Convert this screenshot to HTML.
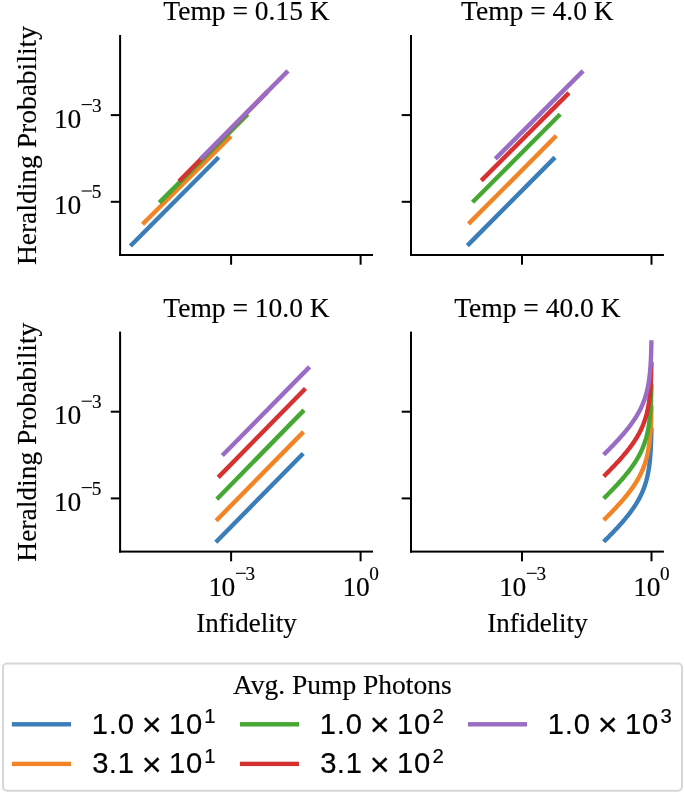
<!DOCTYPE html>
<html><head><meta charset="utf-8"><style>
html,body{margin:0;padding:0;background:#fff;}
text{stroke:#000;stroke-width:0.15px;}
text.s{stroke-width:0.2px;}
svg{display:block;will-change:transform;}
</style></head><body>
<svg width="685" height="794" viewBox="0 0 685 794">
<rect width="685" height="794" fill="#fff"/>
<rect x="119.10" y="35.00" width="2.00" height="221.00" fill="#000"/>
<rect x="119.10" y="254.00" width="253.90" height="2.00" fill="#000"/>
<rect x="230.10" y="255.00" width="2.00" height="9.70" fill="#000"/>
<rect x="359.60" y="255.00" width="2.00" height="9.70" fill="#000"/>
<rect x="110.80" y="114.10" width="9.30" height="2.00" fill="#000"/>
<rect x="110.80" y="200.80" width="9.30" height="2.00" fill="#000"/>
<rect x="410.00" y="35.00" width="2.00" height="221.00" fill="#000"/>
<rect x="410.00" y="254.00" width="253.90" height="2.00" fill="#000"/>
<rect x="521.00" y="255.00" width="2.00" height="9.70" fill="#000"/>
<rect x="650.50" y="255.00" width="2.00" height="9.70" fill="#000"/>
<rect x="401.70" y="114.10" width="9.30" height="2.00" fill="#000"/>
<rect x="401.70" y="200.80" width="9.30" height="2.00" fill="#000"/>
<rect x="119.10" y="331.60" width="2.00" height="221.00" fill="#000"/>
<rect x="119.10" y="550.60" width="253.90" height="2.00" fill="#000"/>
<rect x="230.10" y="551.60" width="2.00" height="9.70" fill="#000"/>
<rect x="359.60" y="551.60" width="2.00" height="9.70" fill="#000"/>
<rect x="110.80" y="410.70" width="9.30" height="2.00" fill="#000"/>
<rect x="110.80" y="497.40" width="9.30" height="2.00" fill="#000"/>
<rect x="410.00" y="331.60" width="2.00" height="221.00" fill="#000"/>
<rect x="410.00" y="550.60" width="253.90" height="2.00" fill="#000"/>
<rect x="521.00" y="551.60" width="2.00" height="9.70" fill="#000"/>
<rect x="650.50" y="551.60" width="2.00" height="9.70" fill="#000"/>
<rect x="401.70" y="410.70" width="9.30" height="2.00" fill="#000"/>
<rect x="401.70" y="497.40" width="9.30" height="2.00" fill="#000"/>
<line x1="130.40" y1="246.00" x2="218.70" y2="157.20" stroke="#3a7db8" stroke-width="4.4" stroke-linecap="butt"/>
<line x1="142.50" y1="224.30" x2="231.00" y2="136.30" stroke="#f28425" stroke-width="4.4" stroke-linecap="butt"/>
<line x1="159.30" y1="202.60" x2="247.80" y2="114.20" stroke="#44a832" stroke-width="4.4" stroke-linecap="butt"/>
<line x1="179.00" y1="181.20" x2="267.30" y2="91.90" stroke="#d63030" stroke-width="4.4" stroke-linecap="butt"/>
<line x1="200.30" y1="159.30" x2="288.00" y2="70.90" stroke="#9a6cc4" stroke-width="4.4" stroke-linecap="butt"/>
<line x1="467.30" y1="245.60" x2="555.00" y2="157.40" stroke="#3a7db8" stroke-width="4.4" stroke-linecap="butt"/>
<line x1="468.50" y1="223.90" x2="556.30" y2="135.80" stroke="#f28425" stroke-width="4.4" stroke-linecap="butt"/>
<line x1="472.50" y1="202.30" x2="560.20" y2="114.30" stroke="#44a832" stroke-width="4.4" stroke-linecap="butt"/>
<line x1="481.30" y1="180.60" x2="569.00" y2="92.90" stroke="#d63030" stroke-width="4.4" stroke-linecap="butt"/>
<line x1="495.30" y1="158.90" x2="583.10" y2="70.90" stroke="#9a6cc4" stroke-width="4.4" stroke-linecap="butt"/>
<line x1="215.80" y1="542.30" x2="303.20" y2="453.50" stroke="#3a7db8" stroke-width="4.4" stroke-linecap="butt"/>
<line x1="216.10" y1="520.70" x2="303.50" y2="431.90" stroke="#f28425" stroke-width="4.4" stroke-linecap="butt"/>
<line x1="216.80" y1="499.30" x2="304.00" y2="410.10" stroke="#44a832" stroke-width="4.4" stroke-linecap="butt"/>
<line x1="218.20" y1="477.40" x2="305.50" y2="388.50" stroke="#d63030" stroke-width="4.4" stroke-linecap="butt"/>
<line x1="222.30" y1="455.50" x2="309.60" y2="366.90" stroke="#9a6cc4" stroke-width="4.4" stroke-linecap="butt"/>
<polyline points="603.70,541.75 604.66,540.80 605.63,539.84 606.58,538.89 607.53,537.94 608.48,536.98 609.42,536.03 610.35,535.08 611.28,534.12 612.21,533.17 613.12,532.22 614.03,531.26 614.94,530.31 615.83,529.36 616.72,528.40 617.61,527.45 618.48,526.50 619.34,525.54 620.20,524.59 621.05,523.64 621.89,522.68 622.72,521.73 623.54,520.78 624.34,519.82 625.14,518.87 625.93,517.92 626.71,516.96 627.47,516.01 628.23,515.06 628.97,514.10 629.70,513.15 630.41,512.20 631.12,511.24 631.81,510.29 632.49,509.34 633.15,508.38 633.80,507.43 634.44,506.48 635.06,505.52 635.67,504.57 636.27,503.62 636.85,502.66 637.41,501.71 637.96,500.76 638.50,499.80 639.02,498.85 639.53,497.90 640.02,496.94 640.50,495.99 640.96,495.04 641.41,494.08 641.84,493.13 642.27,492.18 642.67,491.22 643.06,490.27 643.44,489.32 643.81,488.36 644.16,487.41 644.50,486.46 644.83,485.50 645.14,484.55 645.45,483.60 645.74,482.64 646.02,481.69 646.29,480.74 646.54,479.78 646.79,478.83 647.02,477.88 647.25,476.92 647.47,475.97 647.67,475.02 647.87,474.06 648.06,473.11 648.24,472.16 648.41,471.20 648.58,470.25 648.73,469.30 648.88,468.34 649.03,467.39 649.16,466.44 649.29,465.48 649.41,464.53 649.53,463.58 649.64,462.62 649.75,461.67 649.85,460.72 649.94,459.76 650.04,458.81 650.12,457.86 650.20,456.90 650.28,455.95 650.36,455.00 650.43,454.04 650.49,453.09 650.56,452.14 650.62,451.18 650.67,450.23 650.73,449.28 650.78,448.32 650.83,447.37 650.88,446.42 650.92,445.46 650.96,444.51 651.00,443.56 651.04,442.60 651.07,441.65 651.11,440.70 651.14,439.74 651.17,438.79 651.20,437.84 651.22,436.88 651.25,435.93 651.27,434.98 651.30,434.02 651.32,433.07 651.34,432.12 651.36,431.16 651.38,430.21 651.39,429.26 651.41,428.30 651.43,427.35" fill="none" stroke="#3a7db8" stroke-width="4.4" stroke-linejoin="round" stroke-linecap="butt"/>
<polyline points="603.70,520.10 604.66,519.15 605.63,518.19 606.58,517.24 607.53,516.29 608.48,515.33 609.42,514.38 610.35,513.43 611.28,512.47 612.21,511.52 613.12,510.57 614.03,509.61 614.94,508.66 615.83,507.71 616.72,506.75 617.61,505.80 618.48,504.85 619.34,503.89 620.20,502.94 621.05,501.99 621.89,501.03 622.72,500.08 623.54,499.13 624.34,498.17 625.14,497.22 625.93,496.27 626.71,495.31 627.47,494.36 628.23,493.41 628.97,492.45 629.70,491.50 630.41,490.55 631.12,489.59 631.81,488.64 632.49,487.69 633.15,486.73 633.80,485.78 634.44,484.83 635.06,483.87 635.67,482.92 636.27,481.97 636.85,481.01 637.41,480.06 637.96,479.11 638.50,478.15 639.02,477.20 639.53,476.25 640.02,475.29 640.50,474.34 640.96,473.39 641.41,472.43 641.84,471.48 642.27,470.53 642.67,469.57 643.06,468.62 643.44,467.67 643.81,466.71 644.16,465.76 644.50,464.81 644.83,463.85 645.14,462.90 645.45,461.95 645.74,460.99 646.02,460.04 646.29,459.09 646.54,458.13 646.79,457.18 647.02,456.23 647.25,455.27 647.47,454.32 647.67,453.37 647.87,452.41 648.06,451.46 648.24,450.51 648.41,449.55 648.58,448.60 648.73,447.65 648.88,446.69 649.03,445.74 649.16,444.79 649.29,443.83 649.41,442.88 649.53,441.93 649.64,440.97 649.75,440.02 649.85,439.07 649.94,438.11 650.04,437.16 650.12,436.21 650.20,435.25 650.28,434.30 650.36,433.35 650.43,432.39 650.49,431.44 650.56,430.49 650.62,429.53 650.67,428.58 650.73,427.63 650.78,426.67 650.83,425.72 650.88,424.77 650.92,423.81 650.96,422.86 651.00,421.91 651.04,420.95 651.07,420.00 651.11,419.05 651.14,418.09 651.17,417.14 651.20,416.19 651.22,415.23 651.25,414.28 651.27,413.33 651.30,412.37 651.32,411.42 651.34,410.47 651.36,409.51 651.38,408.56 651.39,407.61 651.41,406.65 651.43,405.70" fill="none" stroke="#f28425" stroke-width="4.4" stroke-linejoin="round" stroke-linecap="butt"/>
<polyline points="603.70,498.50 604.66,497.55 605.63,496.59 606.58,495.64 607.53,494.69 608.48,493.73 609.42,492.78 610.35,491.83 611.28,490.87 612.21,489.92 613.12,488.97 614.03,488.01 614.94,487.06 615.83,486.11 616.72,485.15 617.61,484.20 618.48,483.25 619.34,482.29 620.20,481.34 621.05,480.39 621.89,479.43 622.72,478.48 623.54,477.53 624.34,476.57 625.14,475.62 625.93,474.67 626.71,473.71 627.47,472.76 628.23,471.81 628.97,470.85 629.70,469.90 630.41,468.95 631.12,467.99 631.81,467.04 632.49,466.09 633.15,465.13 633.80,464.18 634.44,463.23 635.06,462.27 635.67,461.32 636.27,460.37 636.85,459.41 637.41,458.46 637.96,457.51 638.50,456.55 639.02,455.60 639.53,454.65 640.02,453.69 640.50,452.74 640.96,451.79 641.41,450.83 641.84,449.88 642.27,448.93 642.67,447.97 643.06,447.02 643.44,446.07 643.81,445.11 644.16,444.16 644.50,443.21 644.83,442.25 645.14,441.30 645.45,440.35 645.74,439.39 646.02,438.44 646.29,437.49 646.54,436.53 646.79,435.58 647.02,434.63 647.25,433.67 647.47,432.72 647.67,431.77 647.87,430.81 648.06,429.86 648.24,428.91 648.41,427.95 648.58,427.00 648.73,426.05 648.88,425.09 649.03,424.14 649.16,423.19 649.29,422.23 649.41,421.28 649.53,420.33 649.64,419.37 649.75,418.42 649.85,417.47 649.94,416.51 650.04,415.56 650.12,414.61 650.20,413.65 650.28,412.70 650.36,411.75 650.43,410.79 650.49,409.84 650.56,408.89 650.62,407.93 650.67,406.98 650.73,406.03 650.78,405.07 650.83,404.12 650.88,403.17 650.92,402.21 650.96,401.26 651.00,400.31 651.04,399.35 651.07,398.40 651.11,397.45 651.14,396.49 651.17,395.54 651.20,394.59 651.22,393.63 651.25,392.68 651.27,391.73 651.30,390.77 651.32,389.82 651.34,388.87 651.36,387.91 651.38,386.96 651.39,386.01 651.41,385.05 651.43,384.10" fill="none" stroke="#44a832" stroke-width="4.4" stroke-linejoin="round" stroke-linecap="butt"/>
<polyline points="603.70,476.40 604.66,475.45 605.63,474.49 606.58,473.54 607.53,472.59 608.48,471.63 609.42,470.68 610.35,469.73 611.28,468.77 612.21,467.82 613.12,466.87 614.03,465.91 614.94,464.96 615.83,464.01 616.72,463.05 617.61,462.10 618.48,461.15 619.34,460.19 620.20,459.24 621.05,458.29 621.89,457.33 622.72,456.38 623.54,455.43 624.34,454.47 625.14,453.52 625.93,452.57 626.71,451.61 627.47,450.66 628.23,449.71 628.97,448.75 629.70,447.80 630.41,446.85 631.12,445.89 631.81,444.94 632.49,443.99 633.15,443.03 633.80,442.08 634.44,441.13 635.06,440.17 635.67,439.22 636.27,438.27 636.85,437.31 637.41,436.36 637.96,435.41 638.50,434.45 639.02,433.50 639.53,432.55 640.02,431.59 640.50,430.64 640.96,429.69 641.41,428.73 641.84,427.78 642.27,426.83 642.67,425.87 643.06,424.92 643.44,423.97 643.81,423.01 644.16,422.06 644.50,421.11 644.83,420.15 645.14,419.20 645.45,418.25 645.74,417.29 646.02,416.34 646.29,415.39 646.54,414.43 646.79,413.48 647.02,412.53 647.25,411.57 647.47,410.62 647.67,409.67 647.87,408.71 648.06,407.76 648.24,406.81 648.41,405.85 648.58,404.90 648.73,403.95 648.88,402.99 649.03,402.04 649.16,401.09 649.29,400.13 649.41,399.18 649.53,398.23 649.64,397.27 649.75,396.32 649.85,395.37 649.94,394.41 650.04,393.46 650.12,392.51 650.20,391.55 650.28,390.60 650.36,389.65 650.43,388.69 650.49,387.74 650.56,386.79 650.62,385.83 650.67,384.88 650.73,383.93 650.78,382.97 650.83,382.02 650.88,381.07 650.92,380.11 650.96,379.16 651.00,378.21 651.04,377.25 651.07,376.30 651.11,375.35 651.14,374.39 651.17,373.44 651.20,372.49 651.22,371.53 651.25,370.58 651.27,369.63 651.30,368.67 651.32,367.72 651.34,366.77 651.36,365.81 651.38,364.86 651.39,363.91 651.41,362.95 651.43,362.00" fill="none" stroke="#d63030" stroke-width="4.4" stroke-linejoin="round" stroke-linecap="butt"/>
<polyline points="603.70,454.70 604.66,453.75 605.63,452.79 606.58,451.84 607.53,450.89 608.48,449.93 609.42,448.98 610.35,448.03 611.28,447.07 612.21,446.12 613.12,445.17 614.03,444.21 614.94,443.26 615.83,442.31 616.72,441.35 617.61,440.40 618.48,439.45 619.34,438.49 620.20,437.54 621.05,436.59 621.89,435.63 622.72,434.68 623.54,433.73 624.34,432.77 625.14,431.82 625.93,430.87 626.71,429.91 627.47,428.96 628.23,428.01 628.97,427.05 629.70,426.10 630.41,425.15 631.12,424.19 631.81,423.24 632.49,422.29 633.15,421.33 633.80,420.38 634.44,419.43 635.06,418.47 635.67,417.52 636.27,416.57 636.85,415.61 637.41,414.66 637.96,413.71 638.50,412.75 639.02,411.80 639.53,410.85 640.02,409.89 640.50,408.94 640.96,407.99 641.41,407.03 641.84,406.08 642.27,405.13 642.67,404.17 643.06,403.22 643.44,402.27 643.81,401.31 644.16,400.36 644.50,399.41 644.83,398.45 645.14,397.50 645.45,396.55 645.74,395.59 646.02,394.64 646.29,393.69 646.54,392.73 646.79,391.78 647.02,390.83 647.25,389.87 647.47,388.92 647.67,387.97 647.87,387.01 648.06,386.06 648.24,385.11 648.41,384.15 648.58,383.20 648.73,382.25 648.88,381.29 649.03,380.34 649.16,379.39 649.29,378.43 649.41,377.48 649.53,376.53 649.64,375.57 649.75,374.62 649.85,373.67 649.94,372.71 650.04,371.76 650.12,370.81 650.20,369.85 650.28,368.90 650.36,367.95 650.43,366.99 650.49,366.04 650.56,365.09 650.62,364.13 650.67,363.18 650.73,362.23 650.78,361.27 650.83,360.32 650.88,359.37 650.92,358.41 650.96,357.46 651.00,356.51 651.04,355.55 651.07,354.60 651.11,353.65 651.14,352.69 651.17,351.74 651.20,350.79 651.22,349.83 651.25,348.88 651.27,347.93 651.30,346.97 651.32,346.02 651.34,345.07 651.36,344.11 651.38,343.16 651.39,342.21 651.41,341.25 651.43,340.30" fill="none" stroke="#9a6cc4" stroke-width="4.4" stroke-linejoin="round" stroke-linecap="butt"/>
<text x="54.08" y="127.60" font-family="'Liberation Serif', serif" font-size="27.5" fill="#000">1</text>
<text x="67.60" y="127.60" font-family="'Liberation Serif', serif" font-size="27.5" fill="#000">0</text>
<rect x="81.70" y="104.05" width="10.20" height="1.10" fill="#000"/>
<text x="91.88" y="111.60" font-family="'Liberation Serif', serif" font-size="19.25" fill="#000">3</text>
<text x="54.08" y="214.00" font-family="'Liberation Serif', serif" font-size="27.5" fill="#000">1</text>
<text x="67.60" y="214.00" font-family="'Liberation Serif', serif" font-size="27.5" fill="#000">0</text>
<rect x="81.70" y="190.45" width="10.20" height="1.10" fill="#000"/>
<text x="91.68" y="198.00" font-family="'Liberation Serif', serif" font-size="19.25" fill="#000">5</text>
<g transform="translate(0,296.6)">
<text x="54.08" y="127.60" font-family="'Liberation Serif', serif" font-size="27.5" fill="#000">1</text>
<text x="67.60" y="127.60" font-family="'Liberation Serif', serif" font-size="27.5" fill="#000">0</text>
<rect x="81.70" y="104.05" width="10.20" height="1.10" fill="#000"/>
<text x="91.88" y="111.60" font-family="'Liberation Serif', serif" font-size="19.25" fill="#000">3</text>
<text x="54.08" y="214.00" font-family="'Liberation Serif', serif" font-size="27.5" fill="#000">1</text>
<text x="67.60" y="214.00" font-family="'Liberation Serif', serif" font-size="27.5" fill="#000">0</text>
<rect x="81.70" y="190.45" width="10.20" height="1.10" fill="#000"/>
<text x="91.68" y="198.00" font-family="'Liberation Serif', serif" font-size="19.25" fill="#000">5</text>
</g>
<text x="208.38" y="595.70" font-family="'Liberation Serif', serif" font-size="27.5" fill="#000">1</text>
<text x="221.60" y="595.70" font-family="'Liberation Serif', serif" font-size="27.5" fill="#000">0</text>
<rect x="235.90" y="572.75" width="9.90" height="1.10" fill="#000"/>
<text x="245.48" y="579.80" font-family="'Liberation Serif', serif" font-size="19.25" fill="#000">3</text>
<text x="342.38" y="595.70" font-family="'Liberation Serif', serif" font-size="27.5" fill="#000">1</text>
<text x="355.90" y="595.70" font-family="'Liberation Serif', serif" font-size="27.5" fill="#000">0</text>
<text x="369.17" y="579.80" font-family="'Liberation Serif', serif" font-size="19.25" fill="#000">0</text>
<text x="499.28" y="595.70" font-family="'Liberation Serif', serif" font-size="27.5" fill="#000">1</text>
<text x="512.50" y="595.70" font-family="'Liberation Serif', serif" font-size="27.5" fill="#000">0</text>
<rect x="526.80" y="572.75" width="9.90" height="1.10" fill="#000"/>
<text x="536.38" y="579.80" font-family="'Liberation Serif', serif" font-size="19.25" fill="#000">3</text>
<text x="633.28" y="595.70" font-family="'Liberation Serif', serif" font-size="27.5" fill="#000">1</text>
<text x="646.80" y="595.70" font-family="'Liberation Serif', serif" font-size="27.5" fill="#000">0</text>
<text x="660.07" y="579.80" font-family="'Liberation Serif', serif" font-size="19.25" fill="#000">0</text>
<text x="246.50" y="20.00" font-family="'Liberation Serif', serif" font-size="27.5" text-anchor="middle" >Temp = 0.15 K</text>
<text x="537.40" y="20.00" font-family="'Liberation Serif', serif" font-size="27.5" text-anchor="middle" >Temp = 4.0 K</text>
<text x="246.50" y="316.60" font-family="'Liberation Serif', serif" font-size="27.5" text-anchor="middle" >Temp = 10.0 K</text>
<text x="537.40" y="316.60" font-family="'Liberation Serif', serif" font-size="27.5" text-anchor="middle" >Temp = 40.0 K</text>
<text x="246.50" y="631.50" font-family="'Liberation Serif', serif" font-size="27.5" text-anchor="middle" textLength="100.5" lengthAdjust="spacingAndGlyphs">Infidelity</text>
<text x="537.40" y="631.50" font-family="'Liberation Serif', serif" font-size="27.5" text-anchor="middle" textLength="100.5" lengthAdjust="spacingAndGlyphs">Infidelity</text>
<text x="36.30" y="145.60" font-family="'Liberation Serif', serif" font-size="27.5" text-anchor="middle" transform="rotate(-90 36.3 145.60)" dy="0">Heralding Probability</text>
<text x="36.30" y="442.20" font-family="'Liberation Serif', serif" font-size="27.5" text-anchor="middle" transform="rotate(-90 36.3 442.20)" dy="0">Heralding Probability</text>
<rect x="3" y="663.6" width="679" height="127.1" rx="4" ry="4" fill="#fff" stroke="#d6d6d6" stroke-width="2"/>
<text x="342.30" y="694.20" font-family="'Liberation Serif', serif" font-size="27.5" text-anchor="middle" >Avg. Pump Photons</text>
<rect x="11.90" y="722.10" width="59.10" height="4.40" fill="#3a7db8"/>
<text class="s" x="91.68" y="733.50" font-family="'Liberation Sans', sans-serif" font-size="29.2" fill="#000">1</text>
<text class="s" x="109.08" y="733.50" font-family="'Liberation Sans', sans-serif" font-size="27.5" fill="#000">.</text>
<text class="s" x="117.73" y="733.50" font-family="'Liberation Sans', sans-serif" font-size="29.2" fill="#000">0</text>
<text class="s" x="141.76" y="736.00" font-family="'Liberation Sans', sans-serif" font-size="34.0" fill="#000">×</text>
<text class="s" x="169.03" y="733.50" font-family="'Liberation Sans', sans-serif" font-size="29.2" fill="#000">1</text>
<text class="s" x="185.88" y="733.50" font-family="'Liberation Sans', sans-serif" font-size="29.2" fill="#000">0</text>
<text class="s" x="204.15" y="722.80" font-family="'Liberation Sans', sans-serif" font-size="20.4" fill="#000">1</text>
<rect x="11.90" y="761.70" width="59.10" height="4.40" fill="#f28425"/>
<text class="s" x="92.17" y="773.30" font-family="'Liberation Sans', sans-serif" font-size="29.2" fill="#000">3</text>
<text class="s" x="109.08" y="773.30" font-family="'Liberation Sans', sans-serif" font-size="27.5" fill="#000">.</text>
<text class="s" x="117.63" y="773.30" font-family="'Liberation Sans', sans-serif" font-size="29.2" fill="#000">1</text>
<text class="s" x="141.76" y="775.80" font-family="'Liberation Sans', sans-serif" font-size="34.0" fill="#000">×</text>
<text class="s" x="169.03" y="773.30" font-family="'Liberation Sans', sans-serif" font-size="29.2" fill="#000">1</text>
<text class="s" x="185.88" y="773.30" font-family="'Liberation Sans', sans-serif" font-size="29.2" fill="#000">0</text>
<text class="s" x="204.15" y="762.60" font-family="'Liberation Sans', sans-serif" font-size="20.4" fill="#000">1</text>
<rect x="239.90" y="722.10" width="59.10" height="4.40" fill="#44a832"/>
<text class="s" x="319.68" y="733.50" font-family="'Liberation Sans', sans-serif" font-size="29.2" fill="#000">1</text>
<text class="s" x="337.08" y="733.50" font-family="'Liberation Sans', sans-serif" font-size="27.5" fill="#000">.</text>
<text class="s" x="345.73" y="733.50" font-family="'Liberation Sans', sans-serif" font-size="29.2" fill="#000">0</text>
<text class="s" x="369.76" y="736.00" font-family="'Liberation Sans', sans-serif" font-size="34.0" fill="#000">×</text>
<text class="s" x="397.03" y="733.50" font-family="'Liberation Sans', sans-serif" font-size="29.2" fill="#000">1</text>
<text class="s" x="413.88" y="733.50" font-family="'Liberation Sans', sans-serif" font-size="29.2" fill="#000">0</text>
<text class="s" x="432.43" y="722.80" font-family="'Liberation Sans', sans-serif" font-size="20.4" fill="#000">2</text>
<rect x="239.90" y="761.70" width="59.10" height="4.40" fill="#d63030"/>
<text class="s" x="320.17" y="773.30" font-family="'Liberation Sans', sans-serif" font-size="29.2" fill="#000">3</text>
<text class="s" x="337.08" y="773.30" font-family="'Liberation Sans', sans-serif" font-size="27.5" fill="#000">.</text>
<text class="s" x="345.63" y="773.30" font-family="'Liberation Sans', sans-serif" font-size="29.2" fill="#000">1</text>
<text class="s" x="369.76" y="775.80" font-family="'Liberation Sans', sans-serif" font-size="34.0" fill="#000">×</text>
<text class="s" x="397.03" y="773.30" font-family="'Liberation Sans', sans-serif" font-size="29.2" fill="#000">1</text>
<text class="s" x="413.88" y="773.30" font-family="'Liberation Sans', sans-serif" font-size="29.2" fill="#000">0</text>
<text class="s" x="432.43" y="762.60" font-family="'Liberation Sans', sans-serif" font-size="20.4" fill="#000">2</text>
<rect x="467.90" y="722.10" width="59.10" height="4.40" fill="#9a6cc4"/>
<text class="s" x="547.68" y="733.50" font-family="'Liberation Sans', sans-serif" font-size="29.2" fill="#000">1</text>
<text class="s" x="565.08" y="733.50" font-family="'Liberation Sans', sans-serif" font-size="27.5" fill="#000">.</text>
<text class="s" x="573.73" y="733.50" font-family="'Liberation Sans', sans-serif" font-size="29.2" fill="#000">0</text>
<text class="s" x="597.76" y="736.00" font-family="'Liberation Sans', sans-serif" font-size="34.0" fill="#000">×</text>
<text class="s" x="625.03" y="733.50" font-family="'Liberation Sans', sans-serif" font-size="29.2" fill="#000">1</text>
<text class="s" x="641.88" y="733.50" font-family="'Liberation Sans', sans-serif" font-size="29.2" fill="#000">0</text>
<text class="s" x="660.49" y="722.80" font-family="'Liberation Sans', sans-serif" font-size="20.4" fill="#000">3</text>
</svg>
</body></html>
